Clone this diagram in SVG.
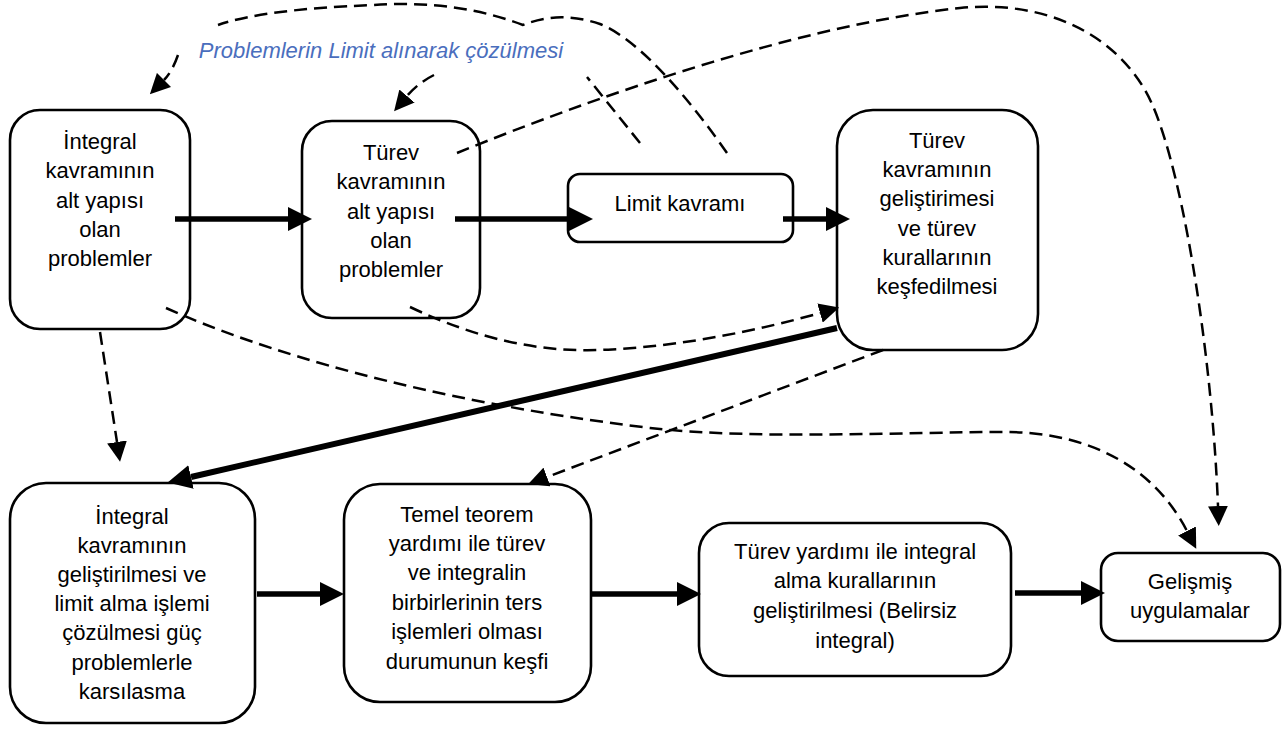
<svg xmlns="http://www.w3.org/2000/svg" width="1288" height="729" viewBox="0 0 1288 729">
<defs>
<style>
.box{fill:#fff;stroke:#000;stroke-width:2.6}
.t{font-family:"Liberation Sans",Arial,sans-serif;font-size:22px;fill:#000;text-anchor:middle}
.lbl{font-family:"Liberation Sans",Arial,sans-serif;font-size:22px;font-style:italic;fill:#4A6EBD;text-anchor:middle}
.solid{fill:none;stroke:#000;stroke-width:5.5}
.thick{fill:none;stroke:#000;stroke-width:6}
.dash{fill:none;stroke:#000;stroke-width:2.5;stroke-dasharray:13 7}
</style>
<marker id="ah" markerUnits="userSpaceOnUse" viewBox="0 0 24 24" refX="0" refY="12" markerWidth="24" markerHeight="24" orient="auto">
<path d="M0,0 L24,12 L0,24 Z" fill="#000"/>
</marker>
<marker id="dh" markerUnits="userSpaceOnUse" viewBox="0 0 20 20" refX="0" refY="10" markerWidth="20" markerHeight="20" orient="auto">
<path d="M0,0 L20,10 L0,20 Z" fill="#000"/>
</marker>
</defs>
<rect width="1288" height="729" fill="#fff"/>

<g id="n1">
<rect class="box" x="10" y="110" width="180" height="219" rx="30"/>
<text class="t"><tspan x="100" y="149">İntegral</tspan><tspan x="100" y="178">kavramının</tspan><tspan x="100" y="207.5">alt yapısı</tspan><tspan x="100" y="237">olan</tspan><tspan x="100" y="266">problemler</tspan></text>
</g>

<g id="n2">
<rect class="box" x="302" y="121" width="178" height="197" rx="30"/>
<text class="t"><tspan x="391" y="160">Türev</tspan><tspan x="391" y="189">kavramının</tspan><tspan x="391" y="218.5">alt yapısı</tspan><tspan x="391" y="248">olan</tspan><tspan x="391" y="277">problemler</tspan></text>
</g>

<g id="n3">
<rect class="box" x="568" y="174" width="225" height="68" rx="12"/>
<text class="t" x="680" y="211">Limit kavramı</text>
</g>

<g id="n4">
<rect class="box" x="837" y="110" width="201" height="240" rx="36"/>
<text class="t"><tspan x="937" y="148">Türev</tspan><tspan x="937" y="177">kavramının</tspan><tspan x="937" y="206">geliştirimesi</tspan><tspan x="937" y="235.5">ve türev</tspan><tspan x="937" y="264.5">kurallarının</tspan><tspan x="937" y="294">keşfedilmesi</tspan></text>
</g>

<g id="n5">
<rect class="box" x="10" y="483" width="245" height="240" rx="36"/>
<text class="t"><tspan x="132" y="523.5">İntegral</tspan><tspan x="132" y="552.7">kavramının</tspan><tspan x="132" y="581.9">geliştirilmesi ve</tspan><tspan x="132" y="611.1">limit alma işlemi</tspan><tspan x="132" y="640.3">çözülmesi güç</tspan><tspan x="132" y="669.5">problemlerle</tspan><tspan x="132" y="698.7">karsılasma</tspan></text>
</g>

<g id="n6">
<rect class="box" x="344" y="484" width="247" height="218" rx="36"/>
<text class="t"><tspan x="467" y="521.5">Temel teorem</tspan><tspan x="467" y="550.9">yardımı ile türev</tspan><tspan x="467" y="580.3">ve integralin</tspan><tspan x="467" y="609.7">birbirlerinin ters</tspan><tspan x="467" y="639.1">işlemleri olması</tspan><tspan x="467" y="668.5">durumunun keşfi</tspan></text>
</g>

<g id="n7">
<rect class="box" x="699" y="523" width="312" height="153" rx="30"/>
<text class="t"><tspan x="855" y="558.5">Türev yardımı ile integral</tspan><tspan x="855" y="588">alma kurallarının</tspan><tspan x="855" y="618">geliştirilmesi (Belirsiz</tspan><tspan x="855" y="648">integral)</tspan></text>
</g>

<g id="n8">
<rect class="box" x="1101" y="553" width="179" height="88" rx="17"/>
<text class="t"><tspan x="1190" y="588.5">Gelişmiş</tspan><tspan x="1190" y="618">uygulamalar</tspan></text>
</g>

<g id="connectors">
<path class="dash" d="M727,153 C690,100 640,40 600,24 C570,14 545,16 523,25 C470,5 420,2 373,5 C300,8 250,14 218,25"/>
<path class="dash" d="M178,55 Q172,72 164,80" marker-end="url(#dh)"/>
<path class="dash" d="M640,143 L587,77"/>
<path class="dash" d="M434,75 Q418,83 407,96" marker-end="url(#dh)"/>
<path class="dash" d="M457,153 C600,95 800,25 960,8 C1040,0 1110,30 1145,90 C1180,150 1212,350 1218,506" marker-end="url(#dh)"/>
<path class="dash" d="M100,332 L117,442" marker-end="url(#dh)"/>
<path class="dash" d="M166,308 C260,350 420,400 650,428 C760,440 900,432 1005,432 C1080,432 1150,460 1187,531" marker-end="url(#dh)"/>
<path class="dash" d="M410,307 C480,340 540,352 600,350 C680,347 760,330 820,313" marker-end="url(#dh)"/>
<path class="dash" d="M883,350 L547,477" marker-end="url(#dh)"/>
<path class="solid" d="M175,219 L288,219" marker-end="url(#ah)"/>
<path class="solid" d="M455,219 L569,219" marker-end="url(#ah)"/>
<path class="solid" d="M783,219 L826,219" marker-end="url(#ah)"/>
<path class="thick" d="M837,328 L191,477" marker-end="url(#ah)"/>
<path class="solid" d="M257,594 L320,594" marker-end="url(#ah)"/>
<path class="solid" d="M592,594 L677,594" marker-end="url(#ah)"/>
<path class="solid" d="M1015,593 L1081,593" marker-end="url(#ah)"/>
</g>

<g id="label">
<text class="lbl" x="381" y="58">Problemlerin Limit alınarak çözülmesi</text>
</g>
</svg>
